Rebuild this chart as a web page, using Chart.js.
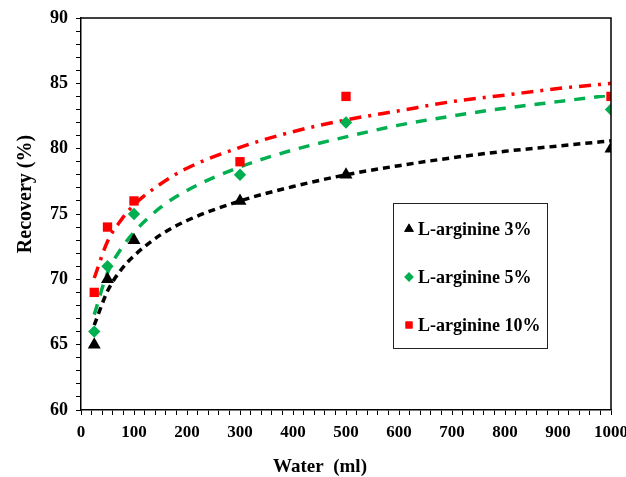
<!DOCTYPE html>
<html>
<head>
<meta charset="utf-8">
<script src="https://cdn.jsdelivr.net/npm/chart.js@4.4.1/dist/chart.umd.min.js"></script>
<style>
  html, body { margin: 0; padding: 0; background: #fff; }
  #wrap { width: 626px; height: 477px; }
</style>
</head>
<body>
<div id="wrap"><canvas id="chart" width="626" height="477"></canvas></div>
<script>
// measured points
const water = [25, 50, 100, 300, 500, 1000];
const arg3 = [65, 70, 73, 76, 78, 80];
const arg5 = [66, 71, 75, 78, 82, 83];
const arg10 = [69, 74, 76, 79, 84, 84];

// trend lines
const fitX = [25, 50, 75, 100, 150, 200, 300, 400, 500, 600, 700, 800, 900, 1000];
const fit3 = [66.5, 69.1, 70.7, 71.8, 73.4, 74.5, 76.0, 77.1, 78.0, 78.7, 79.3, 79.8, 80.2, 80.6];
const fit5 = [67.3, 70.5, 72.3, 73.6, 75.5, 76.8, 78.6, 79.9, 80.9, 81.8, 82.5, 83.1, 83.6, 84.1];
const fit10 = [70.1, 72.9, 74.5, 75.7, 77.3, 78.5, 80.1, 81.3, 82.2, 82.9, 83.6, 84.1, 84.6, 85.0];

const labels = ['L-arginine 3%', 'L-arginine 5%', 'L-arginine 10%'];
const xTitle = 'Water  (ml)';
const yTitle = 'Recovery (%)';

const GREEN = '#00B050';
const RED = '#FF0000';
const serif = '"Liberation Serif", "Times New Roman", serif';

function pts(xs, ys) {
    return xs.map((x, i) => ({ x: x, y: ys[i] }));
}

function curve(ys, color, dash) {
    return {
        type: 'line',
        data: pts(fitX, ys),
        borderColor: color,
        borderWidth: 3.5,
        borderDash: dash,
        pointRadius: 0,
        fill: false,
        cubicInterpolationMode: 'monotone',
        order: 2
    };
}

const markers = [
    { style: 'triangle', color: '#000', radius: 7.5 },
    { style: 'rectRot', color: GREEN, radius: 6.2 },
    { style: 'rect', color: RED, radius: 6.6 }
];

function dots(ys, i) {
    return {
        type: 'scatter',
        label: labels[i],
        data: pts(water, ys),
        pointStyle: markers[i].style,
        pointRadius: markers[i].radius,
        pointBackgroundColor: markers[i].color,
        pointBorderColor: markers[i].color,
        pointBorderWidth: 0,
        showLine: false,
        order: 1
    };
}

// frame on top/right, axis titles and the boxed legend
const extras = {
    id: 'extras',
    afterDraw(chart) {
        const ctx = chart.ctx;
        const a = chart.chartArea;
        ctx.save();
        ctx.strokeStyle = '#000';
        ctx.lineWidth = 1.5;
        ctx.beginPath();
        ctx.moveTo(a.left, a.top);
        ctx.lineTo(a.right, a.top);
        ctx.lineTo(a.right, a.bottom);
        ctx.stroke();

        ctx.fillStyle = '#000';
        ctx.font = 'bold 19px ' + serif;
        ctx.textAlign = 'center';
        ctx.textBaseline = 'middle';
        ctx.fillText(xTitle, 320, 467);

        ctx.save();
        ctx.translate(26, 194);
        ctx.rotate(-Math.PI / 2);
        ctx.font = 'bold 20px ' + serif;
        ctx.fillText(yTitle, 0, 0);
        ctx.restore();

        // legend
        const bx = a.left + 312, by = a.top + 185, bw = 154, bh = 145;
        ctx.fillStyle = '#fff';
        ctx.fillRect(bx, by, bw, bh);
        ctx.lineWidth = 1;
        ctx.strokeStyle = '#222';
        ctx.strokeRect(bx + 0.5, by + 0.5, bw, bh);
        ctx.font = 'bold 18px ' + serif;
        ctx.textAlign = 'left';
        labels.forEach((t, i) => {
            const y = by + 26 + i * 48;
            const m = markers[i];
            ctx.fillStyle = m.color;
            ctx.strokeStyle = m.color;
            Chart.helpers.drawPoint(ctx, { pointStyle: m.style, radius: m.radius * 0.75, rotation: 0, borderWidth: 0 }, bx + 16, y);
            ctx.fill();
            ctx.fillStyle = '#000';
            ctx.fillText(t, bx + 25, y + 1);
        });
        ctx.restore();
    }
};

new Chart(document.getElementById('chart'), {
    type: 'scatter',
    data: {
        datasets: [
            curve(fit3, '#000', [7, 5]),
            curve(fit5, GREEN, [11, 9]),
            curve(fit10, RED, [12, 7, 3, 7]),
            dots(arg3, 0),
            dots(arg5, 1),
            dots(arg10, 2)
        ]
    },
    options: {
        responsive: false,
        animation: false,
        layout: { padding: { top: 18, right: 15, left: 0, bottom: 0 } },
        plugins: {
            legend: { display: false },
            tooltip: { enabled: false }
        },
        scales: {
            x: {
                type: 'linear',
                min: 0,
                max: 1000,
                afterFit(s) { s.height = 67; s.paddingLeft = 0; s.paddingRight = 0; },
                border: { display: true, color: '#000', width: 1.5 },
                grid: { drawOnChartArea: false, drawTicks: true, tickLength: 5, color: '#000', tickWidth: 1 },
                ticks: {
                    stepSize: 20,
                    autoSkip: false,
                    maxRotation: 0,
                    padding: 7,
                    color: '#000',
                    font: { family: serif, size: 17, weight: 'bold' },
                    callback: v => (v % 100 === 0 ? String(v) : '')
                }
            },
            y: {
                min: 60,
                max: 90,
                afterFit(s) { s.width = 81; s.paddingTop = 0; s.paddingBottom = 0; },
                border: { display: true, color: '#000', width: 1.5 },
                grid: { drawOnChartArea: false, drawTicks: true, tickLength: 5, color: '#000', tickWidth: 1 },
                ticks: {
                    stepSize: 1,
                    autoSkip: false,
                    padding: 8,
                    color: '#000',
                    font: { family: serif, size: 18, weight: 'bold' },
                    callback: v => (v % 5 === 0 ? String(v) : '')
                }
            }
        }
    },
    plugins: [extras]
});
</script>
</body>
</html>
